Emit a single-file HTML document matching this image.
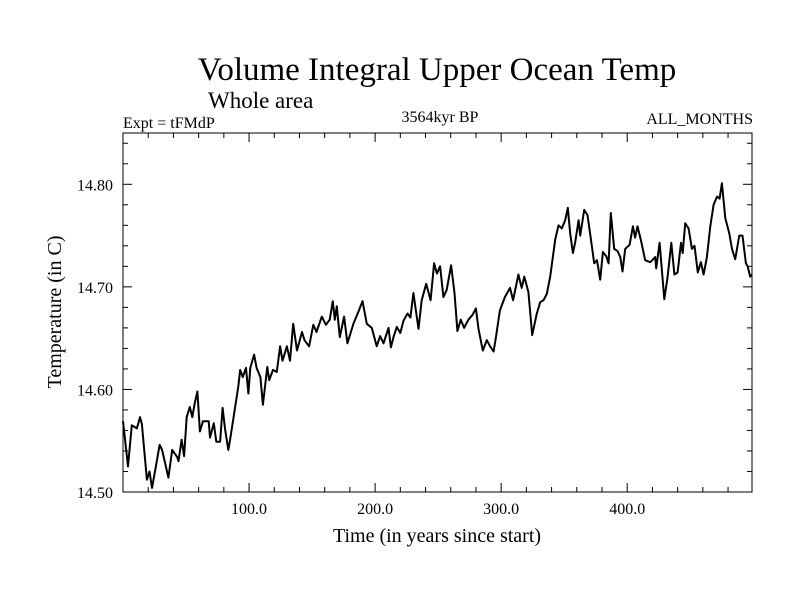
<!DOCTYPE html>
<html><head><meta charset="utf-8"><style>
html,body{margin:0;padding:0;background:#fff;}
svg text{font-family:"Liberation Serif",serif;fill:#000;}
</style></head><body>
<svg width="800" height="600" viewBox="0 0 800 600" xmlns="http://www.w3.org/2000/svg">
<text x="437" y="80" font-size="33" text-anchor="middle">Volume Integral Upper Ocean Temp</text>
<text x="208" y="108" font-size="23">Whole area</text>
<text x="123" y="128" font-size="16">Expt = tFMdP</text>
<text x="440" y="122" font-size="16" text-anchor="middle">3564kyr BP</text>
<text x="753" y="124" font-size="16" text-anchor="end">ALL_MONTHS</text>
<text x="437" y="542" font-size="20" text-anchor="middle">Time (in years since start)</text>
<text transform="translate(61,312) rotate(-90)" font-size="20" text-anchor="middle">Temperature (in C)</text>
<g id="axes"></g>
<path id="series" fill="none" stroke="#000" stroke-width="2" stroke-linejoin="round"/>
<rect x="123" y="133" width="629" height="359" fill="none" stroke="#000" stroke-width="1"/>
</svg>
<script>
const years=[0,4,7,11,13.5,15,19,21,23,27,29,31,36,39,43,44,46.5,48.5,50.5,53,55,57,59,61,63.5,68,69,72,74,77,79,81,83.5,85,88,91.5,93,95,97.6,99.5,101,104,106,109,111,114.5,116,119,122,124.6,126.5,130,132.5,135,138,142,144,147.6,151,153.5,157.7,161,164,166.4,168,169.6,172,175.4,178,182.8,186.8,190,193.4,197.4,201.3,204,206.7,210.6,212.5,214.6,217.2,220,222.5,225.7,228,230.4,234.4,237,240.5,244,246.8,249,251.6,254.2,256.8,260.3,263,265.3,268,270.6,274,277.4,280,282,285.4,288.6,291.2,294,296,299,303,307,309.5,313.7,316.3,318.4,321.6,324.6,328.3,331,333.6,336.2,338.9,342.9,345.5,348.1,350.8,352.9,354.8,356.9,358.7,361.4,362.7,365.9,368.5,370.6,373.8,376,378.6,380.7,383.3,385.2,387,389.7,392.3,394.5,396.3,398.4,401.9,404.5,406.3,408.2,410.8,414.3,418.3,422.2,423,425.7,429.4,432,435,437.4,440,442.7,444,446,448.7,451.3,453.4,456,458.5,460.6,463.2,465.9,468.5,471.2,473.3,475.1,477.8,481,483.1,485.7,488.9,491.5,494.2,495.5,497.6,499];
const temps=[14.569,14.525,14.565,14.562,14.573,14.566,14.512,14.52,14.504,14.531,14.546,14.541,14.514,14.541,14.534,14.53,14.551,14.535,14.573,14.583,14.573,14.587,14.598,14.559,14.569,14.569,14.553,14.567,14.549,14.549,14.582,14.561,14.541,14.551,14.575,14.603,14.619,14.612,14.621,14.596,14.621,14.634,14.621,14.612,14.585,14.622,14.609,14.619,14.617,14.642,14.628,14.642,14.628,14.664,14.638,14.656,14.648,14.642,14.663,14.656,14.671,14.663,14.668,14.686,14.668,14.681,14.651,14.671,14.645,14.664,14.676,14.686,14.664,14.66,14.642,14.652,14.645,14.66,14.641,14.651,14.661,14.655,14.667,14.674,14.67,14.694,14.659,14.687,14.703,14.687,14.723,14.713,14.72,14.69,14.697,14.721,14.694,14.657,14.668,14.66,14.668,14.673,14.679,14.659,14.638,14.648,14.642,14.637,14.652,14.677,14.69,14.699,14.687,14.712,14.699,14.71,14.695,14.653,14.674,14.685,14.687,14.693,14.71,14.746,14.76,14.757,14.765,14.777,14.752,14.733,14.743,14.765,14.75,14.775,14.77,14.752,14.723,14.726,14.707,14.734,14.73,14.723,14.772,14.737,14.735,14.729,14.715,14.737,14.741,14.759,14.748,14.759,14.746,14.726,14.724,14.729,14.718,14.743,14.688,14.709,14.743,14.712,14.714,14.743,14.733,14.762,14.757,14.737,14.74,14.714,14.724,14.712,14.729,14.759,14.78,14.788,14.786,14.801,14.767,14.752,14.737,14.727,14.75,14.75,14.723,14.72,14.71,14.712];
const xTickLabels=["100.0","200.0","300.0","400.0"];
const xTickValues=[100,200,300,400];
const yTickLabels=["14.50","14.60","14.70","14.80"];
const yTickValues=[14.5,14.6,14.7,14.8];

const X0=123,X1=752,Y0=492,Y1=133,xmin=0,xmax=499,ymin=14.5,ymax=14.85;
const sx=v=>X0+(v-xmin)/(xmax-xmin)*(X1-X0);
const sy=v=>Y0-(v-ymin)/(ymax-ymin)*(Y0-Y1);
const NS="http://www.w3.org/2000/svg";
const axes=document.getElementById('axes');
function line(x1,y1,x2,y2){const l=document.createElementNS(NS,'line');l.setAttribute('x1',x1);l.setAttribute('y1',y1);l.setAttribute('x2',x2);l.setAttribute('y2',y2);l.setAttribute('stroke','#000');l.setAttribute('stroke-width','1');axes.appendChild(l);return l;}
function txt(x,y,s,anchor){const t=document.createElementNS(NS,'text');t.setAttribute('x',x);t.setAttribute('y',y);t.setAttribute('font-size','16');t.setAttribute('text-anchor',anchor);t.textContent=s;axes.appendChild(t);return t;}
for(let v=20;v<xmax;v+=20){const x=sx(v);const major=v%100===0;const L=major?9:5;
 let a=line(x,Y0,x,Y0-L);
 let b=line(x,Y1,x,Y1+L);}
for(let i=0;i<=17;i++){const v=ymin+i*0.02;const y=sy(v);const major=i%5===0;const L=major?9:5;
 let a=line(X0,y,X0+L,y);
 let b=line(X1,y,X1-L,y);}
xTickLabels.forEach((s,i)=>{const t=txt(sx(xTickValues[i]),514,s,'middle');
 
 });
yTickLabels.forEach((s,i)=>{const t=txt(113,sy(yTickValues[i])+6,s,'end');
 
 });
document.getElementById('series').setAttribute('d',years.map((v,i)=>(i?'L':'M')+sx(v).toFixed(1)+','+sy(temps[i]).toFixed(1)).join(''));
</script>
</body></html>
